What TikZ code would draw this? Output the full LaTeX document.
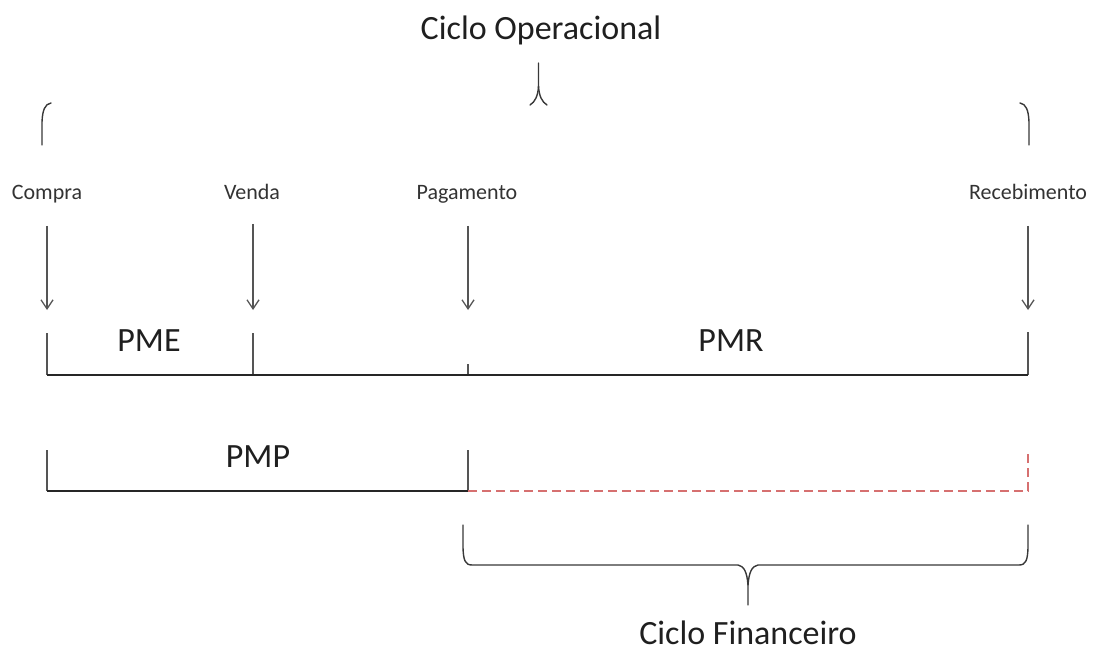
\documentclass[tikz,border=0pt]{standalone}
\usepackage{fontspec}
\setmainfont{Carlito}
\usetikzlibrary{arrows.meta}
\definecolor{dashred}{RGB}{214,112,112}
\definecolor{inkgray}{RGB}{85,85,85}
\begin{document}
\begin{tikzpicture}[x=1pt,y=-1pt,
  lbl/.style={font=\fontsize{22}{24}\selectfont, text=black!80, inner sep=0pt, anchor=base},
  big/.style={font=\fontsize{34}{36}\selectfont, text=black!88, inner sep=0pt, anchor=base},
  arr/.style={draw=inkgray, line width=1.4pt, -{Straight Barb[length=9pt,width=12pt,line width=1.3pt]}},
  tickline/.style={draw=inkgray, line width=1.7pt},
  axisline/.style={draw=black!85, line width=2.4pt},
  reddash/.style={draw=dashred, line width=1.5pt, dash pattern=on 9pt off 5pt},
  bracepath/.style={draw=black!78, line width=1.4pt, line cap=round}]
\useasboundingbox (0,0) rectangle (1097,652);

% titles
\node[big] (op) at (541,40) {Ciclo Operacional};
\node[big] (fin) at (748,644) {Ciclo Financeiro};

% event labels
\node[lbl] (compra) at (47,200) {Compra};
\node[lbl] (venda) at (252,200) {Venda};
\node[lbl] (pag) at (467,200) {Pagamento};
\node[lbl] (rec) at (1028,200) {Recebimento};

% period labels
\node[big] (pme) at (149,351) {PME};
\node[big] (pmr) at (731,351) {PMR};
\node[big] (pmp) at (258,467) {PMP};

% coordinates
\coordinate (aC) at (47,226);  \coordinate (bC) at (47,310);
\coordinate (aV) at (253,224); \coordinate (bV) at (253,310);
\coordinate (aP) at (468,226); \coordinate (bP) at (468,310);
\coordinate (aR) at (1028,226);\coordinate (bR) at (1028,310);

\coordinate (tC) at (47,333);  \coordinate (xC) at (47,375);
\coordinate (tV) at (253,333); \coordinate (xV) at (253,375);
\coordinate (tP) at (468,364); \coordinate (xP) at (468,375);
\coordinate (tR) at (1028,332);\coordinate (xR) at (1028,375);

\coordinate (sC) at (47,450);  \coordinate (yC) at (47,491);
\coordinate (sP) at (468,450); \coordinate (yP) at (468,491);
\coordinate (sR) at (1028,450);\coordinate (yR) at (1028,491);

% arrows
\draw[arr] (aC) -- (bC);
\draw[arr] (aV) -- (bV);
\draw[arr] (aP) -- (bP);
\draw[arr] (aR) -- (bR);

% upper timeline
\draw[tickline] (tC) -- (xC);
\draw[tickline] (tV) -- (xV);
\draw[tickline] (tP) -- (xP);
\draw[tickline] (tR) -- (xR);
\draw[axisline] (xC) -- (xR);

% lower timeline
\draw[tickline] (sC) -- (yC);
\draw[tickline] (sP) -- (yP);
\draw[axisline, line width=1.8pt] (yC) -- (yP);
\draw[reddash] (yP) -- (yR) -- (sR);

% top brace fragments
\draw[bracepath] (42,145) -- (42,122) .. controls (42.5,110) and (45,104) .. (51,103);
\draw[bracepath] (1029,145) -- (1029,122) .. controls (1028.5,110) and (1026,104) .. (1020,103);
\draw[bracepath] (530,105) .. controls (535,102) and (538,96) .. (538.5,86) -- (538.5,63);
\draw[bracepath] (547,105) .. controls (542,102) and (539,96) .. (538.5,86);

% bottom brace
\draw[bracepath] (463,525) -- (463,548) .. controls (463.5,560) and (465,565) .. (472,565)
  -- (738,565) .. controls (744,566) and (747,572) .. (748,585) -- (748,605);
\draw[bracepath] (1028,525) -- (1028,548) .. controls (1027.5,560) and (1026,565) .. (1019,565)
  -- (758,565) .. controls (752,566) and (749,572) .. (748,585);
\end{tikzpicture}
\end{document}
